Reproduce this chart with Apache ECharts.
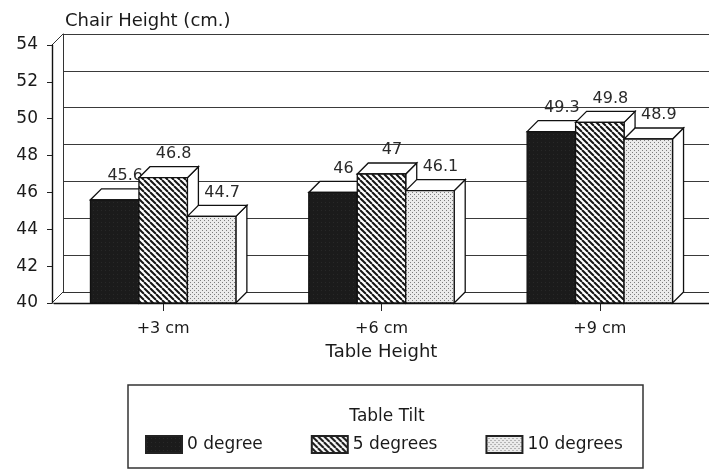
<!DOCTYPE html>
<html>
<head>
<meta charset="utf-8">
<script src="https://cdn.jsdelivr.net/npm/echarts@6/dist/echarts.min.js"></script>
<style>
  html, body { margin: 0; padding: 0; background: #ffffff; }
  #chart { width: 709px; height: 471px; }
</style>
</head>
<body>
<div id="chart"></div>
<script>
// Table height offsets (categories) and chair height per table tilt
const categories = ['+3 cm', '+6 cm', '+9 cm'];
const seriesNames = ['0 degree', '5 degrees', '10 degrees'];
const tilt0 = [45.6, 46, 49.3];
const tilt5 = [46.8, 47, 49.8];
const tilt10 = [44.7, 46.1, 48.9];
const yMin = 40, yMax = 54, yStep = 2;

const FONT = '"DejaVu Sans", "Liberation Sans", sans-serif';
const INK = '#1a1a1a';
const DEPTH = 11;          // pseudo-3D depth offset in px
const BAR_SHARE = 0.222;   // each bar's share of a category band

// Fill patterns for the three tilts
function solidTile() {
  const c = document.createElement('canvas');
  c.width = 4; c.height = 4;
  const g = c.getContext('2d');
  g.fillStyle = '#1b1b1b'; g.fillRect(0, 0, 4, 4);
  g.fillStyle = '#282828'; g.fillRect(1, 2, 1, 1);
  return c;
}
function hatchTile() {
  const s = 6;
  const c = document.createElement('canvas');
  c.width = s; c.height = s;
  const g = c.getContext('2d');
  g.fillStyle = '#ffffff'; g.fillRect(0, 0, s, s);
  g.strokeStyle = '#151515'; g.lineWidth = 2;
  for (let k = -s; k <= s; k += s) {
    g.beginPath(); g.moveTo(k, 0); g.lineTo(k + s, s); g.stroke();
  }
  return c;
}
function dotTile() {
  const c = document.createElement('canvas');
  c.width = 4; c.height = 4;
  const g = c.getContext('2d');
  g.fillStyle = '#ebebeb'; g.fillRect(0, 0, 4, 4);
  g.fillStyle = '#7d7d7d';
  g.fillRect(0, 0, 1, 1); g.fillRect(2, 2, 1, 1);
  return c;
}
const fills = [
  { image: solidTile(), repeat: 'repeat' },
  { image: hatchTile(), repeat: 'repeat' },
  { image: dotTile(), repeat: 'repeat' }
];

function renderBar(params, api) {
  const si = params.seriesIndex;
  const cat = api.value(0);
  const v = api.value(1);
  const top = api.coord([cat, v]);
  const base = api.coord([cat, yMin]);
  const band = api.size([1, 0])[0];
  const w = band * BAR_SHARE;
  const x0 = top[0] + (si - 1.5) * w;
  const x1 = x0 + w;
  const yT = top[1], yB = base[1], d = DEPTH;
  const line = { stroke: '#111', lineWidth: 1.3 };
  return {
    type: 'group',
    children: [
      { type: 'polygon', shape: { points: [[x1, yT], [x1 + d, yT - d], [x1 + d, yB - d], [x1, yB]] },
        style: Object.assign({ fill: '#fff' }, line) },
      { type: 'polygon', shape: { points: [[x0, yT], [x0 + d, yT - d], [x1 + d, yT - d], [x1, yT]] },
        style: Object.assign({ fill: '#fff' }, line) },
      { type: 'rect', shape: { x: x0, y: yT, width: w, height: yB - yT },
        style: Object.assign({ fill: fills[si] }, line) },
      { type: 'text', style: { text: String(v), x: (x0 + x1) / 2 + d / 2 + 5, y: yT - d - 5,
        align: 'center', verticalAlign: 'bottom', fill: '#2a2a2a', font: '16px ' + FONT } }
    ]
  };
}

const seriesValues = [tilt0, tilt5, tilt10];
const series = seriesValues.map((vals, i) => ({
  type: 'custom',
  name: seriesNames[i],
  xAxisIndex: 0,
  yAxisIndex: 0,
  renderItem: renderBar,
  itemStyle: { color: fills[i], borderColor: '#222', borderWidth: 1 },
  encode: { x: 0, y: 1 },
  data: vals.map((v, k) => [k, v])
}));

const chart = echarts.init(document.getElementById('chart'), null, { renderer: 'canvas' });
chart.setOption({
  backgroundColor: '#ffffff',
  animation: false,
  title: {
    text: 'Chair Height (cm.)',
    left: 60, top: 7,
    textStyle: { fontFamily: FONT, fontSize: 18, fontWeight: 'normal', color: INK }
  },
  grid: [
    { left: 54, right: 0, top: 45, height: 258 },                  // front plane
    { left: 54 + DEPTH - 2, right: 0, top: 45 - DEPTH, height: 258 } // back wall
  ],
  xAxis: [
    {
      type: 'category', gridIndex: 0, data: categories,
      axisLine: { lineStyle: { color: '#111', width: 1.4 } },
      axisTick: { show: true, alignWithLabel: true, length: 8, lineStyle: { color: '#222' } },
      axisLabel: { margin: 18, fontFamily: FONT, fontSize: 16, color: INK },
      name: 'Table Height', nameLocation: 'middle', nameGap: 40,
      nameTextStyle: { fontFamily: FONT, fontSize: 18, color: INK }
    },
    {
      type: 'category', gridIndex: 1, data: categories,
      axisLine: { lineStyle: { color: '#333', width: 1 } },
      axisTick: { show: false }, axisLabel: { show: false }
    }
  ],
  yAxis: [
    {
      type: 'value', gridIndex: 0, min: yMin, max: yMax, interval: yStep, offset: 2,
      axisLine: { show: true, lineStyle: { color: '#111', width: 1.4 } },
      axisTick: { show: true, length: 5, lineStyle: { color: '#222' } },
      axisLabel: { margin: 14, fontFamily: FONT, fontSize: 17, color: INK },
      splitLine: { show: false }
    },
    {
      type: 'value', gridIndex: 1, min: yMin, max: yMax, interval: yStep,
      axisLine: { show: true, lineStyle: { color: '#333', width: 1 } },
      axisTick: { show: false }, axisLabel: { show: false },
      splitLine: { show: true, lineStyle: { color: '#3a3a3a', width: 1.2 } }
    }
  ],
  legend: {
    data: seriesNames,
    left: 145, top: 435, padding: 0,
    icon: 'rect', itemWidth: 36, itemHeight: 17, itemGap: 48,
    textStyle: { fontFamily: FONT, fontSize: 17, color: INK },
    selectedMode: false
  },
  graphic: [
    // corner edges joining the front plane to the back wall
    { type: 'line', shape: { x1: 52, y1: 45, x2: 63, y2: 34 }, style: { stroke: '#333', lineWidth: 1 } },
    { type: 'line', shape: { x1: 52, y1: 303, x2: 63, y2: 292 }, style: { stroke: '#333', lineWidth: 1 } },
    // legend frame and caption
    { type: 'rect', shape: { x: 128, y: 385, width: 515, height: 83 },
      style: { fill: 'none', stroke: '#333', lineWidth: 1.5 } },
    { type: 'text', style: { text: 'Table Tilt', x: 387, y: 417, align: 'center', verticalAlign: 'middle',
      font: '17px ' + FONT, fill: INK } }
  ],
  series: series
});
</script>
</body>
</html>
